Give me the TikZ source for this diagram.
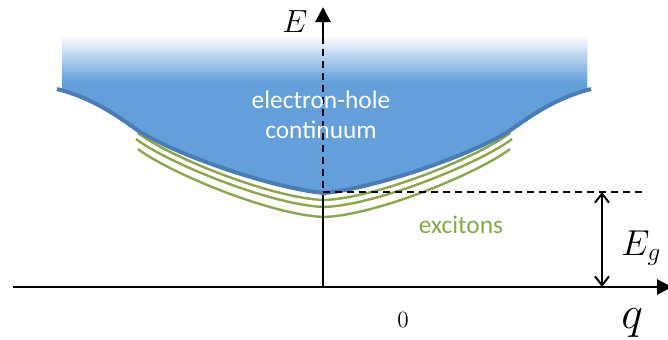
\RequirePackage{fix-cm}
\documentclass[tikz,border=0pt]{standalone}
\usepackage{fontspec}
\newfontfamily\calibri{Carlito}
\usepackage{tikz}
\usetikzlibrary{arrows.meta}
\definecolor{bandblue}{HTML}{629FDB}
\definecolor{edgeblue}{HTML}{4A7DB5}
\definecolor{excgreen}{HTML}{8AA84A}
\tikzset{
  axis/.style={line width=1.4pt,-{Triangle[length=7.5pt,width=7.5pt]}},
  edge/.style={draw=edgeblue,line width=2pt},
  exciton/.style={draw=excgreen,line width=1.2pt},
  guide/.style={line width=0.7pt,dash pattern=on 3.5pt off 2.5pt},
  gap/.style={line width=1pt,{Straight Barb[length=4.5pt,width=7pt]}-{Straight Barb[length=4.5pt,width=7pt]}},
  bandtext/.style={font=\calibri\fontsize{12.7}{15}\selectfont,text=white,anchor=base,inner sep=0pt},
  exctext/.style={bandtext,text=excgreen},
  mathlabel/.style={inner sep=0pt,anchor=base west}
}
\begin{document}
\begin{tikzpicture}[x=0.5pt,y=-0.5pt]
  \useasboundingbox (0,0) rectangle (668,339);
  \coordinate (origin) at (323,287);
  \coordinate (qstart) at (13,287);
  \coordinate (qend) at (672,287);
  \coordinate (etop) at (323,7);
  \coordinate (bandtop) at (323,37);
  \coordinate (bandmin) at (323,192);
  \coordinate (gapend) at (645,192);
  \coordinate (gaptop) at (602,192);
  \coordinate (gapbot) at (602,287);
  \foreach \xs/\ys/\yc in {138/133/200,136/139/207,138/149/217}
    \draw[exciton] (\xs,\ys) .. controls ({\xs+30},{\ys+23}) and (270,{\yc-2}) .. (324,\yc)
      .. controls (378,{\yc-2}) and ({618-\xs},{\ys+23}) .. ({648-\xs},\ys);
  \draw[axis] (qstart) -- (qend);
  \draw[axis] (origin) -- (etop);
  \begin{scope}
    \clip (62,37) rectangle (587,200);
    \fill[bandblue] (57,30) -- (57,89) .. controls (85,96) and (108,109) .. (133,127)
      .. controls (165,151) and (270,188) .. (324,193)
      .. controls (378,188) and (483,151) .. (515,127)
      .. controls (540,109) and (563,96) .. (591,89) -- (591,30) -- cycle;
  \end{scope}
  \shade[top color=bandblue!4,bottom color=bandblue] (62,37) rectangle (587,82);
  \draw[edge] (57,89) .. controls (85,96) and (108,109) .. (133,127)
    .. controls (165,151) and (270,188) .. (324,193)
    .. controls (378,188) and (483,151) .. (515,127)
    .. controls (540,109) and (563,96) .. (591,89);
  \draw[guide] (bandtop) -- (bandmin);
  \draw[guide] (bandmin) -- (gapend);
  \draw[gap] (gaptop) -- (gapbot);
  \node[bandtext] (cont1) at (321,108) {electron-hole};
  \node[bandtext] (cont2) at (321,138) {continuum};
  \node[exctext] (exc) at (461,233) {excitons};
  \node[mathlabel,font=\fontsize{16}{16}\selectfont] (elab) at (282,32) {$E$};
  \node[mathlabel,font=\fontsize{18}{18}\selectfont] (eglab) at (621,255) {$E_g$};
  \node[mathlabel,font=\fontsize{23}{23}\selectfont] (qlab) at (621,328) {$q$};
  \node[inner sep=0pt,anchor=base,font=\fontsize{11.6}{12}\selectfont] (zero) at (403,327) {0};
\end{tikzpicture}
\end{document}
